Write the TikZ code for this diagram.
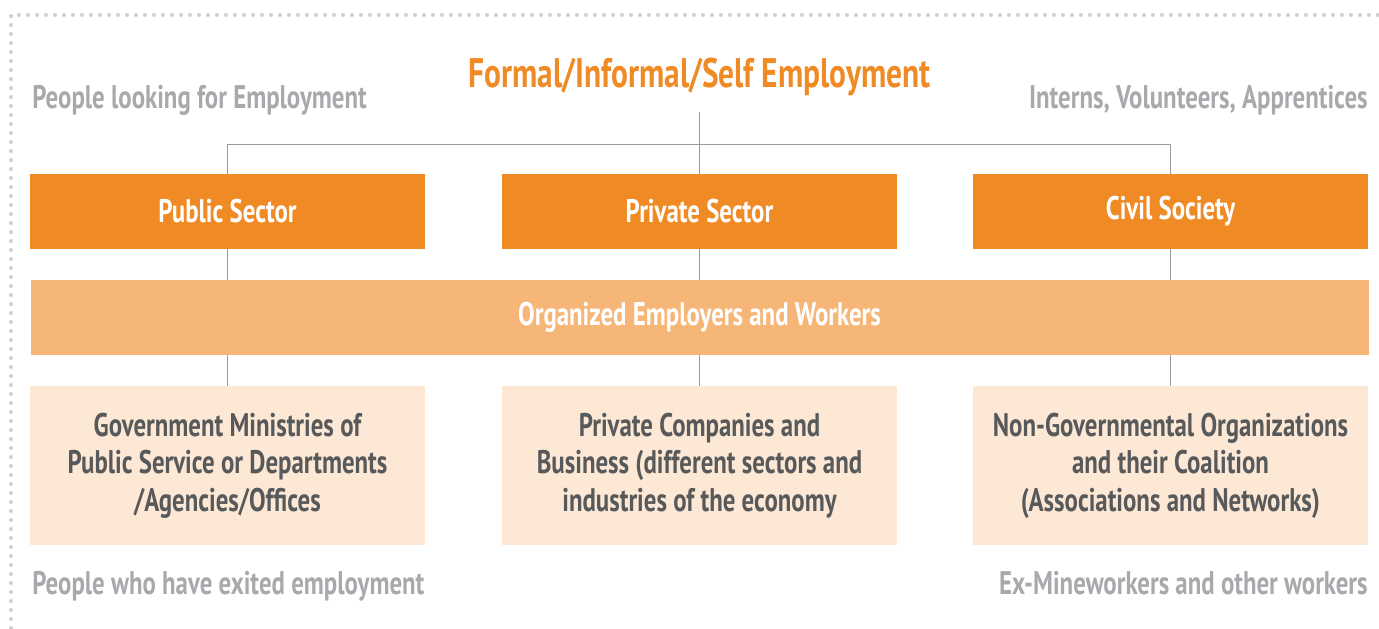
\documentclass[tikz,border=0pt]{standalone}
\usepackage{fontspec}
\setmainfont{PT Sans}[FakeStretch=0.76]
\definecolor{sectororange}{HTML}{F08A24}
\definecolor{bandorange}{HTML}{F6B677}
\definecolor{boxcream}{HTML}{FCE8D5}
\definecolor{labelgray}{HTML}{A7A9AC}
\definecolor{textgray}{HTML}{58595B}
\definecolor{linegray}{HTML}{9A9A9A}
\definecolor{dotgray}{HTML}{CFCFCF}
\begin{document}
\begin{tikzpicture}[
  sector/.style={fill=sectororange, text=white, minimum width=7.9cm, minimum height=1.5cm, font=\bfseries\fontsize{18.6}{21}\selectfont},
  band/.style={fill=bandorange, text=white, minimum width=26.76cm, minimum height=1.5cm, font=\bfseries\fontsize{18.6}{21}\selectfont},
  detail/.style={fill=boxcream, text=textgray, minimum width=7.9cm, minimum height=3.18cm, align=center, font=\bfseries\fontsize{18.6}{21.3}\selectfont},
  side/.style={text=labelgray, inner sep=0pt, font=\bfseries\fontsize{18.6}{21}\selectfont},
  link/.style={draw=linegray, line width=0.7pt}
]
  \useasboundingbox (0,0) rectangle (27.58,-12.56);
  % dotted frame, top and left only
  \draw[dotgray, line width=0.08cm, line cap=round, dash pattern=on 0pt off 0.18cm]
    (0.22,-12.56) -- (0.22,-0.3) -- (27.58,-0.3);

  \node[anchor=base, inner sep=0pt, text=sectororange, font=\bfseries\fontsize{23.5}{26}\selectfont] (title) at (13.99,-1.74) {Formal/Informal/Self Employment};
  \coordinate (hub) at (13.99,-2.24);

  \node[side, anchor=base west] (seeking) at (0.64,-2.17) {People looking for Employment};
  \node[side, anchor=base east] (interns) at (27.36,-2.17) {Interns, Volunteers, Apprentices};
  \node[side, anchor=base west] (exited) at (0.64,-11.88) {People who have exited employment};
  \node[side, anchor=base east] (miners) at (27.36,-11.88) {Ex-Mineworkers and other workers};

  % sectors
  \node[sector] (public) at (4.55,-4.23) {Public Sector};
  \node[sector] (private) at (13.99,-4.23) {Private Sector};
  \node[sector] (civil) at (23.41,-4.23) {Civil Society};

  \node[band] (organized) at (13.99,-6.35) {Organized Employers and Workers};

  \node[detail] (govt) at (4.55,-9.31) {Government Ministries of\\Public Service or Departments\\/Agencies/Offices};
  \node[detail] (companies) at (13.99,-9.31) {Private Companies and\\Business (different sectors and\\industries of the economy};
  \node[detail] (ngo) at (23.41,-9.31) {Non-Governmental Organizations\\and their Coalition\\(Associations and Networks)};

  % connectors
  \draw[link] (hub) -- (private.north);
  \draw[link] (public.north) -- ++(0,0.58) -| (civil.north);
  \foreach \top/\low in {public/govt, private/companies, civil/ngo} {
    \draw[link] (\top.south) -- (\top.south |- organized.north);
    \draw[link] (organized.south -| \low.north) -- (\low.north);
  }
\end{tikzpicture}
\end{document}
